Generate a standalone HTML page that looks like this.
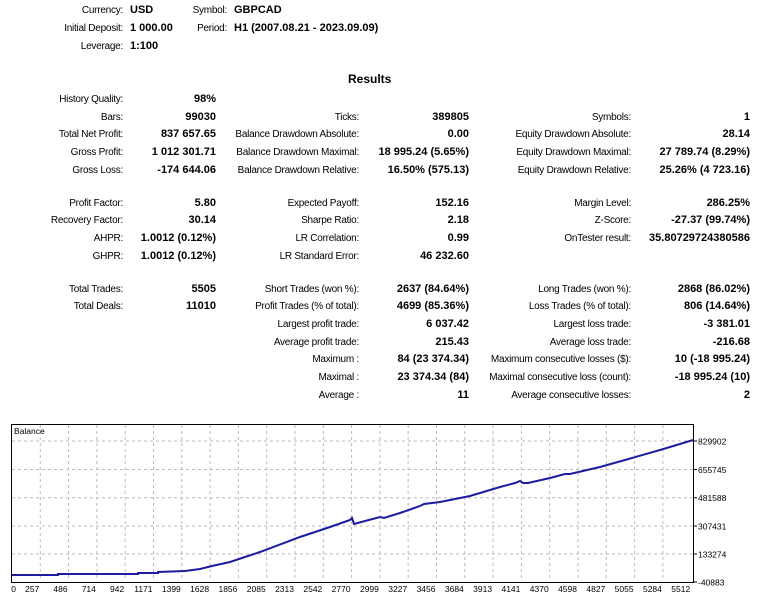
<!DOCTYPE html>
<html><head><meta charset="utf-8"><style>
body{margin:0;width:774px;height:600px;background:#fff;position:relative;overflow:hidden;font-family:"Liberation Sans","DejaVu Sans",sans-serif;font-size:10px;color:#000}
.l,.v{position:absolute;white-space:nowrap;line-height:14px}
.l{letter-spacing:-0.25px;margin-top:0.5px}
.v{font-weight:bold;font-size:11px}
svg{position:absolute;left:0;top:0}
</style></head><body>
<div id="c"></div>
<svg width="774" height="600" id="s"></svg>
<script>
var c=document.getElementById('c');
function R(x,y,t,b){var d=document.createElement('div');d.className=b?'v':'l';d.style.right=(774-x)+'px';d.style.top=(y-6)+'px';d.textContent=t;c.appendChild(d);}
function L(x,y,t,b){var d=document.createElement('div');d.className=b?'v':'l';d.style.left=x+'px';d.style.top=(y-6)+'px';d.textContent=t;c.appendChild(d);}
R(123,9,'Currency:');L(130,9,'USD',1);R(227,9,'Symbol:');L(234,9,'GBPCAD',1);
R(123,27,'Initial Deposit:');L(130,27,'1 000.00',1);R(227,27,'Period:');L(234,27,'H1 (2007.08.21 - 2023.09.09)',1);
R(123,45,'Leverage:');L(130,45,'1:100',1);
var d=document.createElement('div');d.className='v';d.style.left='348px';d.style.top='72px';d.style.fontSize='12px';d.textContent='Results';c.appendChild(d);
var rows=[
[98,'History Quality:','98%','','','',''],
[116,'Bars:','99030','Ticks:','389805','Symbols:','1'],
[133,'Total Net Profit:','837 657.65','Balance Drawdown Absolute:','0.00','Equity Drawdown Absolute:','28.14'],
[151,'Gross Profit:','1 012 301.71','Balance Drawdown Maximal:','18 995.24 (5.65%)','Equity Drawdown Maximal:','27 789.74 (8.29%)'],
[169,'Gross Loss:','-174 644.06','Balance Drawdown Relative:','16.50% (575.13)','Equity Drawdown Relative:','25.26% (4 723.16)'],
[202,'Profit Factor:','5.80','Expected Payoff:','152.16','Margin Level:','286.25%'],
[219,'Recovery Factor:','30.14','Sharpe Ratio:','2.18','Z-Score:','-27.37 (99.74%)'],
[237,'AHPR:','1.0012 (0.12%)','LR Correlation:','0.99','OnTester result:','35.80729724380586'],
[255,'GHPR:','1.0012 (0.12%)','LR Standard Error:','46 232.60','',''],
[288,'Total Trades:','5505','Short Trades (won %):','2637 (84.64%)','Long Trades (won %):','2868 (86.02%)'],
[305,'Total Deals:','11010','Profit Trades (% of total):','4699 (85.36%)','Loss Trades (% of total):','806 (14.64%)'],
[323,'','','Largest profit trade:','6 037.42','Largest loss trade:','-3 381.01'],
[341,'','','Average profit trade:','215.43','Average loss trade:','-216.68'],
[358,'','','Maximum :','84 (23 374.34)','Maximum consecutive losses ($):','10 (-18 995.24)'],
[376,'','','Maximal :','23 374.34 (84)','Maximal consecutive loss (count):','-18 995.24 (10)'],
[394,'','','Average :','11','Average consecutive losses:','2']];
rows.forEach(function(r){var y=r[0];
if(r[1])R(123,y,r[1]);if(r[2])R(216,y,r[2],1);
if(r[3])R(359,y,r[3]);if(r[4])R(469,y,r[4],1);
if(r[5])R(631,y,r[5]);if(r[6])R(750,y,r[6],1);});
var s='';
for(var i=1;i<24;i++){var x=12+28.3*i;s+='<line x1="'+x+'" y1="425" x2="'+x+'" y2="581" stroke="#bbb" stroke-dasharray="3,3"/>';}
var ys=[441,469.5,497.7,526,554];
ys.forEach(function(y){s+='<line x1="12" y1="'+y+'" x2="693" y2="'+y+'" stroke="#bbb" stroke-dasharray="3,3"/>';});
s+='<rect x="11.5" y="424.5" width="682" height="158" fill="none" stroke="#000"/>';
var yl=['829902','655745','481588','307431','133274','-40883'],yy=[441,469.5,497.7,526,554,582];
for(var k=0;k<6;k++){s+='<line x1="694" y1="'+yy[k]+'" x2="697" y2="'+yy[k]+'" stroke="#000"/><text x="698" y="'+(yy[k]+3.5)+'" font-size="8.5" font-family="Liberation Sans,sans-serif">'+yl[k]+'</text>';}
var xl=['0','257','486','714','942','1171','1399','1628','1856','2085','2313','2542','2770','2999','3227','3456','3684','3913','4141','4370','4598','4827','5055','5284','5512'];
for(var k=0;k<25;k++){var x=12+28.3*k;s+='<text x="'+(k==0?16:x-1)+'" y="592" text-anchor="end" font-size="8.5" font-family="Liberation Sans,sans-serif">'+xl[k]+'</text>';}
s+='<text x="14" y="434" font-size="8.5" font-family="Liberation Sans,sans-serif">Balance</text>';
var p=[[12,575],[58,575],[58,574],[138,574],[138,573],[158,573],[158,572],[185,571],[200,569],[212,566],[230,562],[245,557],[260,552],[300,537],[330,527],[350,520],[352,518],[354,524],[365,521],[380,517],[384,518],[400,513],[420,506],[424,504],[440,502],[470,496],[500,487],[515,483],[520,481],[523,483],[528,483],[550,478],[565,474],[570,474],[600,467],[625,460],[660,450],[680,444],[693,440]];
s+='<polyline fill="none" stroke="#1c1ca0" stroke-width="2" points="'+p.map(function(a){return a.join(',')}).join(' ')+'"/>';
document.getElementById('s').innerHTML=s;
</script>
</body></html>
